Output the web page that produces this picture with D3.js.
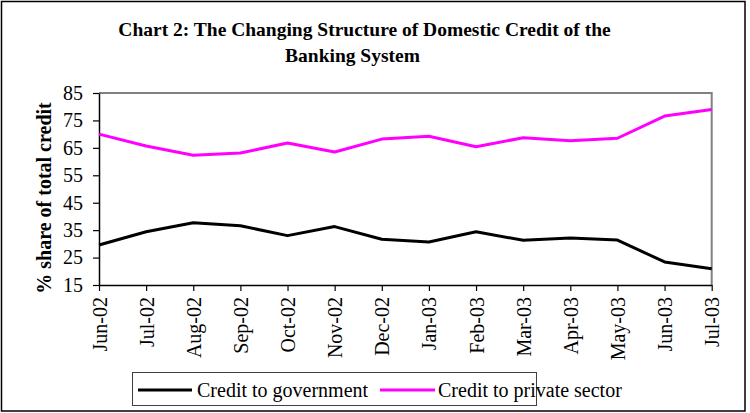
<!DOCTYPE html>
<html>
<head>
<meta charset="utf-8">
<script src="https://cdn.jsdelivr.net/npm/d3@7"></script>
<style>
  html, body { margin: 0; padding: 0; background: #fff; }
  svg { display: block; }
  text { font-family: "Liberation Serif", "Times New Roman", serif; fill: #000; }
</style>
</head>
<body>
<svg id="chart" width="750" height="413"></svg>
<script>
// Monthly observations, June 2002 – July 2003
const months = ["Jun-02", "Jul-02", "Aug-02", "Sep-02", "Oct-02", "Nov-02", "Dec-02",
                "Jan-03", "Feb-03", "Mar-03", "Apr-03", "May-03", "Jun-03", "Jul-03"];

// Share of total domestic credit (%)
const creditGovernment = [29.6, 34.4, 37.7, 36.6, 33.0, 36.3, 31.7, 30.7, 34.4, 31.3, 32.1, 31.4, 23.4, 20.9];
const creditPrivate    = [70.0, 65.7, 62.3, 63.1, 66.8, 63.5, 68.2, 69.2, 65.4, 68.7, 67.6, 68.5, 76.6, 79.0];

const yTicks = [15, 25, 35, 45, 55, 65, 75, 85];

const seriesNames = ["Credit to government", "Credit to private sector"];
const seriesColors = ["#000000", "#ff00ff"];

const svg = d3.select("#chart");

// Plot area
const plot = { left: 99, right: 711.7, top: 93, bottom: 285 };

const x = d3.scalePoint().domain(months).range([plot.left, plot.right]);
const y = d3.scaleLinear().domain([15, 85]).range([plot.bottom, plot.top]);

// Outer frame
svg.append("rect")
  .attr("x", 1.5).attr("y", 1.5)
  .attr("width", 743.5).attr("height", 409.5)
  .attr("fill", "none").attr("stroke", "#000").attr("stroke-width", 1.5);

// Title
const title = svg.append("g").attr("font-weight", "bold").attr("font-size", 19.5);
title.append("text").attr("x", 364.5).attr("y", 35.5).attr("text-anchor", "middle")
  .text("Chart 2: The Changing Structure of Domestic Credit of the");
title.append("text").attr("x", 352.5).attr("y", 62).attr("text-anchor", "middle")
  .text("Banking System");

// Plot frame (top and right edges)
svg.append("path")
  .attr("d", `M${plot.left},${plot.top}H${plot.right}V${plot.bottom}`)
  .attr("fill", "none").attr("stroke", "#808080").attr("stroke-width", 2);

// Y axis
const yAxis = svg.append("g")
  .attr("transform", `translate(${plot.left},0)`)
  .call(d3.axisLeft(y).tickValues(yTicks).tickSize(6).tickSizeOuter(0).tickPadding(10));
yAxis.select(".domain").attr("stroke", "#000").attr("stroke-width", 1.5);
yAxis.selectAll(".tick line").attr("stroke", "#000").attr("stroke-width", 1.2);
yAxis.selectAll(".tick text")
  .attr("font-family", "'Liberation Serif', 'Times New Roman', serif")
  .attr("font-size", 20).attr("fill", "#000");

// X axis
const xAxis = svg.append("g")
  .attr("transform", `translate(0,${plot.bottom})`)
  .call(d3.axisBottom(x).tickSize(6).tickSizeOuter(0));
xAxis.select(".domain").attr("stroke", "#000").attr("stroke-width", 1.5);
xAxis.selectAll(".tick line").attr("stroke", "#000").attr("stroke-width", 1.2);
xAxis.selectAll(".tick text")
  .attr("font-family", "'Liberation Serif', 'Times New Roman', serif")
  .attr("font-size", 20).attr("fill", "#000")
  .attr("transform", "rotate(-90)")
  .attr("text-anchor", "end")
  .attr("x", -12).attr("y", 0).attr("dy", "0.35em");

// Y axis title
svg.append("text")
  .attr("transform", "translate(51,198) rotate(-90)")
  .attr("text-anchor", "middle")
  .attr("font-weight", "bold").attr("font-size", 20)
  .text("% share of total credit");

// Series lines
const line = d3.line()
  .x((d, i) => x(months[i]))
  .y(d => y(d));

[creditGovernment, creditPrivate].forEach((vals, k) => {
  svg.append("path")
    .datum(vals)
    .attr("d", line)
    .attr("fill", "none")
    .attr("stroke", seriesColors[k])
    .attr("stroke-width", 3)
    .attr("stroke-linejoin", "round");
});

// Legend
const legend = svg.append("g");
legend.append("rect")
  .attr("x", 132.5).attr("y", 372.5)
  .attr("width", 404).attr("height", 33)
  .attr("fill", "#fff").attr("stroke", "#404040").attr("stroke-width", 1);

const legendItems = [
  { x1: 138, x2: 192, tx: 197 },
  { x1: 380, x2: 435, tx: 438 }
];
legendItems.forEach((it, k) => {
  legend.append("line")
    .attr("x1", it.x1).attr("x2", it.x2)
    .attr("y1", 390).attr("y2", 390)
    .attr("stroke", seriesColors[k]).attr("stroke-width", 3);
  legend.append("text")
    .attr("x", it.tx).attr("y", 397)
    .attr("font-size", 20)
    .text(seriesNames[k]);
});
</script>
</body>
</html>
